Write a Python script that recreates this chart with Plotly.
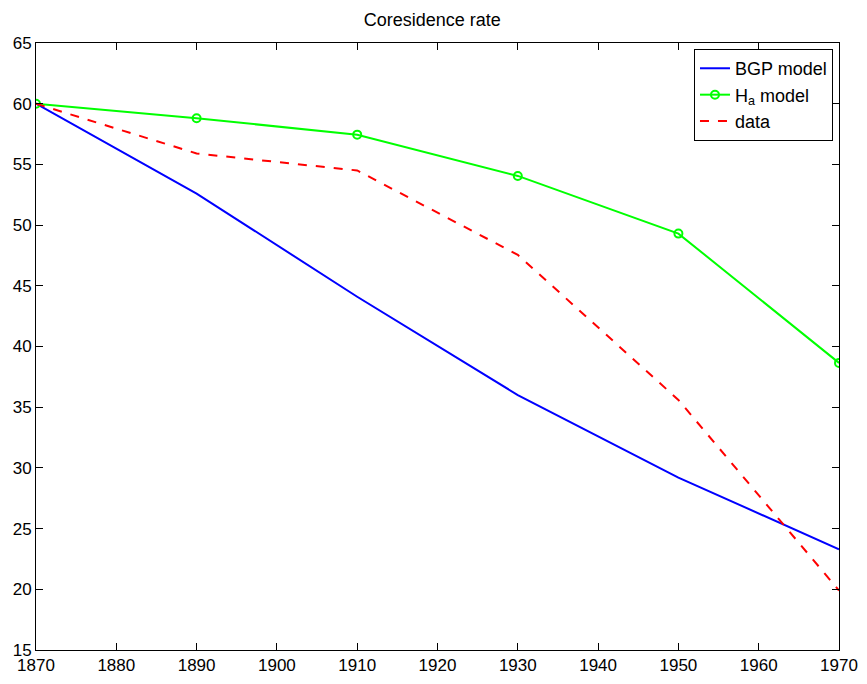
import plotly.graph_objects as go

years = [1870, 1890, 1910, 1930, 1950, 1970]
bgp_model = [60.0, 52.6, 44.1, 36.0, 29.2, 23.3]
ha_model = [60.0, 58.8, 57.45, 54.05, 49.3, 38.65]
data_vals = [60.0, 55.9, 54.5, 47.55, 35.6, 19.9]

x_ticks = [1870, 1880, 1890, 1900, 1910, 1920, 1930, 1940, 1950, 1960, 1970]
y_ticks = [15, 20, 25, 30, 35, 40, 45, 50, 55, 60, 65]

FONT = "Liberation Sans, Arial, Helvetica"

fig = go.Figure()
fig.add_trace(go.Scatter(x=years, y=bgp_model, mode="lines", name="BGP model",
                         line=dict(color="#0000ff", width=2)))
fig.add_trace(go.Scatter(x=years, y=ha_model, mode="lines+markers", name="H<sub>a</sub> model",
                         line=dict(color="#00ff00", width=2),
                         marker=dict(symbol="circle-open", size=8, color="#00ff00",
                                     line=dict(width=2, color="#00ff00"))))
fig.add_trace(go.Scatter(x=years, y=data_vals, mode="lines", name="data",
                         line=dict(color="#ff0000", width=2, dash="dash")))

axis_common = dict(showgrid=False, zeroline=False, showline=True, linecolor="black",
                   linewidth=1, mirror="ticks", ticks="inside", ticklen=7,
                   tickcolor="black", automargin=False,
                   tickfont=dict(family=FONT, size=17, color="black"))

fig.update_layout(
    width=851, height=668,
    margin=dict(l=28, r=20, t=35, b=26, autoexpand=False),
    plot_bgcolor="white", paper_bgcolor="white",
    title=dict(text="Coresidence rate", x=0.4985, xanchor="center", y=0.982, yanchor="middle",
               font=dict(family=FONT, size=18, color="black")),
    xaxis=dict(range=[1870, 1970], tickvals=x_ticks, **axis_common),
    yaxis=dict(range=[15, 65], tickvals=y_ticks, **axis_common),
    legend=dict(x=0.9925, y=0.99, xanchor="right", yanchor="top",
                bgcolor="white", bordercolor="black", borderwidth=1,
                font=dict(family=FONT, size=18, color="black"),
                tracegroupgap=0, itemwidth=30),
    showlegend=True,
)

fig.write_html("out.html")
